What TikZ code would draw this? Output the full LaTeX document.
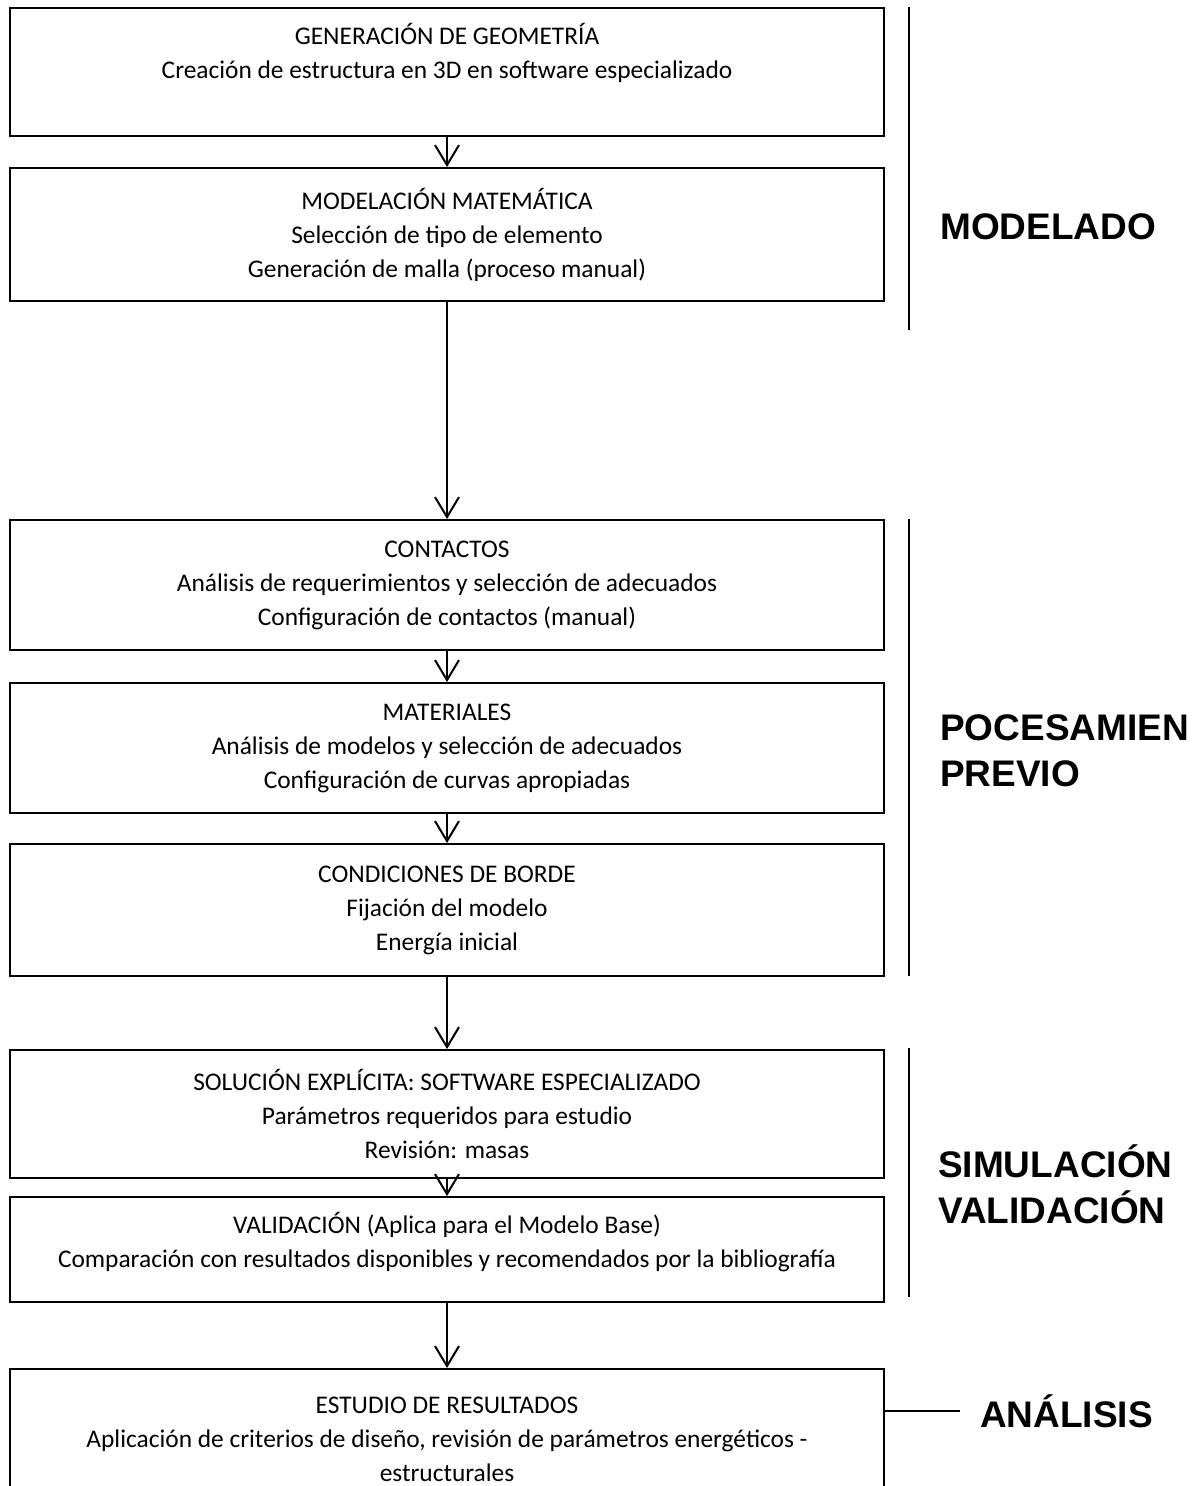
\documentclass[tikz,border=0pt]{standalone}
\usepackage{fontspec}
\setmainfont{Carlito}
\newfontfamily\headfont{Liberation Sans}
\usetikzlibrary{arrows.meta, positioning, calc}

\begin{document}
\begin{tikzpicture}[x=1pt, y=-1pt,
  stage/.style={draw, line width=2pt, minimum width=874pt, inner sep=0pt, align=center, font=\fontsize{25.4}{34}\selectfont},
  flow/.style={line width=2pt, -{Straight Barb[length=20pt, width=24pt, line width=2pt]}},
  bracket/.style={line width=2pt},
  phase/.style={anchor=west, inner sep=0pt, align=left, font=\headfont\bfseries\fontsize{37}{46}\selectfont}]
  \useasboundingbox (0,0) rectangle (1196,1486);
  % stages
  \node[stage, minimum height=128pt, text depth=42pt] (geo) at (447,72) {GENERACIÓN DE GEOMETRÍA\\ Creación de estructura en 3D en software especializado};
  \node[stage, minimum height=133pt] (mat) at (447,234.5) {MODELACIÓN MATEMÁTICA\\ Selección de tipo de elemento\\ Generación de malla (proceso manual)};
  \node[stage, minimum height=130pt] (con) at (447,585) {CONTACTOS\\ Análisis de requerimientos y selección de adecuados\\ Configuración de contactos (manual)};
  \node[stage, minimum height=130pt] (mtl) at (447,748) {MATERIALES\\ Análisis de modelos y selección de adecuados\\ Configuración de curvas apropiadas};
  \node[stage, minimum height=132pt] (bor) at (447,910) {CONDICIONES DE BORDE\\ Fijación del modelo\\ Energía inicial};
  \node[stage, minimum height=128pt] (sol) at (447,1114) {SOLUCIÓN EXPLÍCITA: SOFTWARE ESPECIALIZADO\\ Parámetros requeridos para estudio\\ Revisión: masas};
  \node[stage, minimum height=105pt, text depth=20pt] (val) at (447,1249.5) {VALIDACIÓN (Aplica para el Modelo Base)\\ Comparación con resultados disponibles y recomendados por la bibliografía};
  \node[stage, minimum height=140pt] (res) at (447,1439) {ESTUDIO DE RESULTADOS\\ Aplicación de criterios de diseño, revisión de parámetros energéticos -\\ estructurales};
  \foreach \a/\b in {geo/mat, mat/con, con/mtl, mtl/bor, bor/sol, sol/val, val/res}
    \draw[flow] (\a) -- (\b);
  % phases
  \node[phase] (mdl) at (940,227) {MODELADO};
  \node[phase] (pre) at (940,751) {POCESAMIEN\\PREVIO};
  \node[phase] (sim) at (938,1184) {SIMULACIÓN\\VALIDACIÓN};
  \node[phase] (anl) at (980,1411) {ANÁLISIS};
  \draw[bracket] (909,7) -- (909,330);
  \draw[bracket] (909,519) -- (909,976);
  \draw[bracket] (909,1048) -- (909,1297);
  \draw[bracket] (res.east |- anl.west) -- ([xshift=-20pt]anl.west);
\end{tikzpicture}
\end{document}
